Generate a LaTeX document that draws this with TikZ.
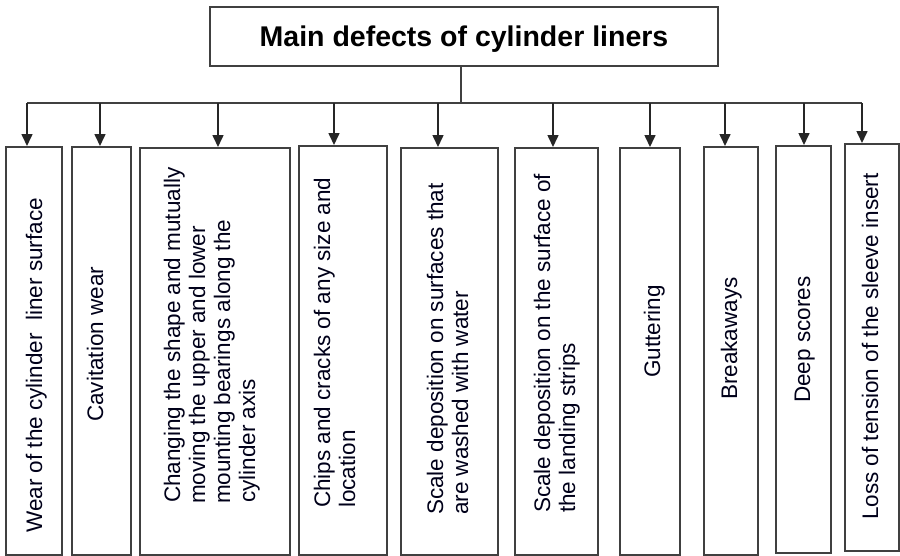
\documentclass[tikz,border=0pt]{standalone}
\usepackage{fontspec}
\setmainfont{Liberation Sans}
\usetikzlibrary{arrows.meta}
\tikzset{
  boxstyle/.style={draw=black!75, line width=1.6pt, rectangle, inner sep=0pt, anchor=north west},
  lbl/.style={rotate=90, anchor=base west, inner sep=0pt, font=\fontsize{22.5}{25}\selectfont, text=black!90!blue},
  arr/.style={draw=black!85, line width=1.6pt, -{Triangle[width=11pt,length=12pt]}},
  bus/.style={draw=black!75, line width=1.6pt}
}
\begin{document}
\begin{tikzpicture}[x=1pt,y=-1pt]
\useasboundingbox (0,0) rectangle (900,555);
% title
\node[boxstyle, minimum width=508pt, minimum height=59pt] (top) at (209,6) {};
\node[anchor=base, inner sep=0pt, font=\fontsize{28.5}{30}\selectfont\bfseries] (title) at (464,46) {Main defects of cylinder liners};
% boxes
\node[boxstyle, minimum width=56pt, minimum height=408pt] (b1) at (5,146) {};
\node[boxstyle, minimum width=59pt, minimum height=408pt] (b2) at (71,146) {};
\node[boxstyle, minimum width=150pt, minimum height=407pt] (b3) at (139,147) {};
\node[boxstyle, minimum width=88pt, minimum height=409pt] (b4) at (298,145) {};
\node[boxstyle, minimum width=97pt, minimum height=407pt] (b5) at (400,147) {};
\node[boxstyle, minimum width=83pt, minimum height=407pt] (b6) at (514,147) {};
\node[boxstyle, minimum width=60pt, minimum height=407pt] (b7) at (619,147) {};
\node[boxstyle, minimum width=54pt, minimum height=408pt] (b8) at (703,146) {};
\node[boxstyle, minimum width=55pt, minimum height=407pt] (b9) at (775,145) {};
\node[boxstyle, minimum width=54pt, minimum height=407pt] (b10) at (844,143) {};
% bus
\coordinate (stem) at (461,103);
\coordinate (t1) at (27,103);
\coordinate (t2) at (100,103);
\coordinate (t3) at (218,103);
\coordinate (t4) at (334,103);
\coordinate (t5) at (438,103);
\coordinate (t6) at (553,103);
\coordinate (t7) at (650,103);
\coordinate (t8) at (725,103);
\coordinate (t9) at (804,103);
\coordinate (t10) at (862,103);
\draw[bus] (stem |- top.south) -- (stem);
\draw[bus] (t1) -- (t10);
\foreach \i in {1,...,10} {
  \draw[arr] (t\i) -- (t\i |- b\i.north);
}
% labels
\node[lbl] (l1) at (42,533) {Wear of the cylinder\ \ liner surface};
\node[lbl] (l2) at (103,422) {Cavitation wear};
\node[lbl] (l3a) at (180,503) {Changing the shape and mutually};
\node[lbl] (l3b) at (205,504) {moving the upper and lower};
\node[lbl] (l3c) at (230,504) {mounting bearings along the};
\node[lbl] (l3d) at (255,503) {cylinder axis};
\node[lbl] (l4a) at (330,508) {Chips and cracks of any size and};
\node[lbl] (l4b) at (355,508) {location};
\node[lbl] (l5a) at (443,515) {Scale deposition on surfaces that};
\node[lbl] (l5b) at (468,515) {are washed with water};
\node[lbl] (l6a) at (550,513) {Scale deposition on the surface of};
\node[lbl] (l6b) at (575,513) {the landing strips};
\node[lbl] (l7) at (660,378) {Guttering};
\node[lbl] (l8) at (737,400) {Breakaways};
\node[lbl] (l9) at (810,403) {Deep scores};
\node[lbl] (l10) at (878,520) {Loss of tension of the sleeve insert};
\end{tikzpicture}
\end{document}
